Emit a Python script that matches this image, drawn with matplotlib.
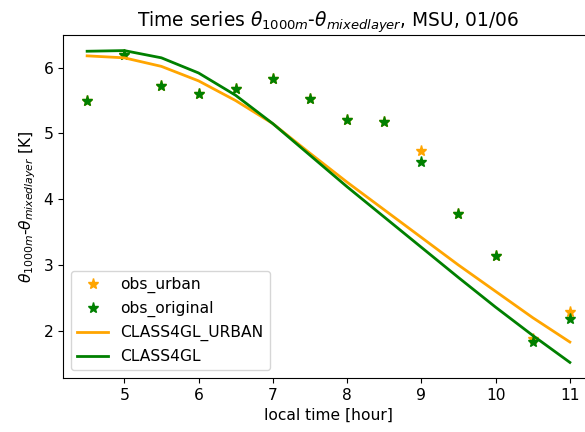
import matplotlib
matplotlib.use("Agg")
import matplotlib.pyplot as plt

plt.rcParams['font.size'] = 11.2

hours = [4.5, 5, 5.5, 6, 6.5, 7, 7.5, 8, 8.5, 9, 9.5, 10, 10.5, 11]
obs_urban = [5.50, 6.20, 5.72, 5.60, 5.68, 5.83, 5.52, 5.20, 5.18, 4.73, 3.78, 3.13, 1.87, 2.29]
obs_original = [5.50, 6.20, 5.72, 5.60, 5.68, 5.83, 5.52, 5.20, 5.18, 4.56, 3.78, 3.13, 1.83, 2.18]
class4gl_urban = [6.18, 6.15, 6.02, 5.80, 5.50, 5.15, 4.70, 4.26, 3.84, 3.42, 3.00, 2.60, 2.20, 1.83]
class4gl = [6.25, 6.26, 6.15, 5.92, 5.58, 5.15, 4.67, 4.19, 3.73, 3.27, 2.81, 2.36, 1.93, 1.52]

fig = plt.figure(figsize=(5.85, 4.32), dpi=100)
W, H = 585, 432
ax = fig.add_axes([63 / W, 1 - 378 / H, (594 - 63) / W, (378 - 35) / H])

ax.plot(hours, obs_urban, '*', color='orange', markersize=8, label='obs_urban')
ax.plot(hours, obs_original, '*', color='green', markersize=8, label='obs_original')
ax.plot(hours, class4gl_urban, '-', color='orange', linewidth=2, label='CLASS4GL_URBAN')
ax.plot(hours, class4gl, '-', color='green', linewidth=2, label='CLASS4GL')

ax.set_title(r'Time series $\theta_{1000m}$-$\theta_{mixedlayer}$, MSU, 01/06')
ax.set_xlabel('local time [hour]')
ax.set_ylabel(r'$\theta_{1000m}$-$\theta_{mixedlayer}$ [K]')
ax.legend(loc='lower left')

fig.savefig('out.png', dpi=100)
